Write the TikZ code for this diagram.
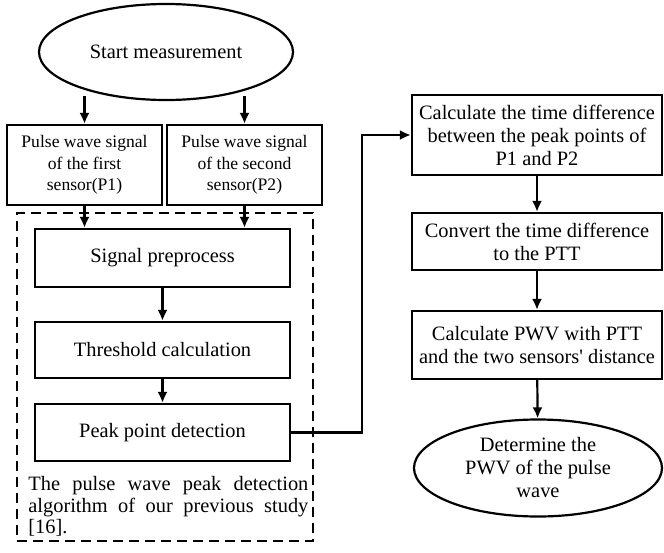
\documentclass[tikz,border=0pt]{standalone}
\usepackage{fontspec}
\setmainfont{Liberation Serif}
\usetikzlibrary{arrows, arrows.meta, shapes.geometric, positioning}

\tikzset{
  box/.style={draw, line width=1.1pt, rectangle, align=center, inner sep=1pt},
  oval/.style={draw, line width=1.1pt, ellipse, align=center, inner sep=0pt},
  frame/.style={draw, line width=1.1pt, dash pattern=on 5pt off 3pt},
  note/.style={text width=140pt, align=justify, inner sep=0pt, font=\fontsize{10.2}{10.75}\selectfont},
  flow/.style={-{Latex[length=5.5pt,width=5pt]}, line width=1.1pt},
}

\begin{document}
\begin{tikzpicture}[x=0.5pt, y=-0.5pt, font=\fontsize{10.2}{11.5}\selectfont]
\useasboundingbox (0,0) rectangle (664,552);

% left column
\node[oval, minimum width=127pt, minimum height=48pt] (start) at (166,52) {Start measurement};
\node[box, minimum width=77.5pt, minimum height=40pt, font=\fontsize{8.8}{10.75}\selectfont] (p1) at (84.5,165) {Pulse wave signal\\of the first\\sensor(P1)};
\node[box, minimum width=77.5pt, minimum height=40pt, font=\fontsize{8.8}{10.75}\selectfont] (p2) at (244.5,165) {Pulse wave signal\\of the second\\sensor(P2)};
\node[frame, minimum width=148pt, minimum height=164pt] (alg) at (165,377) {};
\node[box, minimum width=127.5pt, minimum height=29pt] (pre) at (162.5,258) {Signal preprocess};
\node[box, minimum width=127.5pt, minimum height=28pt] (thr) at (162.5,350) {Threshold calculation};
\node[box, minimum width=127.5pt, minimum height=28.5pt] (peak) at (162.5,432.5) {Peak point detection};
\node[note, anchor=north west] (ref) at (28,476) {The pulse wave peak detection\linebreak{} algorithm of our previous study\linebreak{} [16].};

% right column
\node[box, minimum width=125pt, minimum height=40pt] (calc) at (537,135) {Calculate the time difference\\between the peak points of\\P1 and P2};
\node[box, minimum width=125pt, minimum height=28.5pt] (conv) at (537,241.5) {Convert the time difference\\to the PTT};
\node[box, minimum width=125pt, minimum height=34pt] (pwv) at (537,345) {Calculate PWV with PTT\\and the two sensors\textquotesingle{} distance};
\node[oval, minimum width=124pt, minimum height=48.5pt] (det) at (538,468) {Determine the\\PWV of the pulse\\wave};
\coordinate (turn) at (362,432.5);

\draw[flow] ([yshift=2.5pt]p1.north |- start.south) -- (p1.north);
\draw[flow] ([yshift=2.5pt]p2.north |- start.south) -- (p2.north);
\draw[flow] (p1.south) -- (p1.south |- pre.north);
\draw[flow] (p2.south) -- (p2.south |- pre.north);
\draw[flow] (pre) -- (thr);
\draw[flow] (thr) -- (peak);
\draw[flow] (peak.east) -- (turn) |- (calc.west);
\draw[flow] (calc) -- (conv);
\draw[flow] (conv) -- (pwv);
\draw[flow] (pwv) -- (det);
\end{tikzpicture}
\end{document}
